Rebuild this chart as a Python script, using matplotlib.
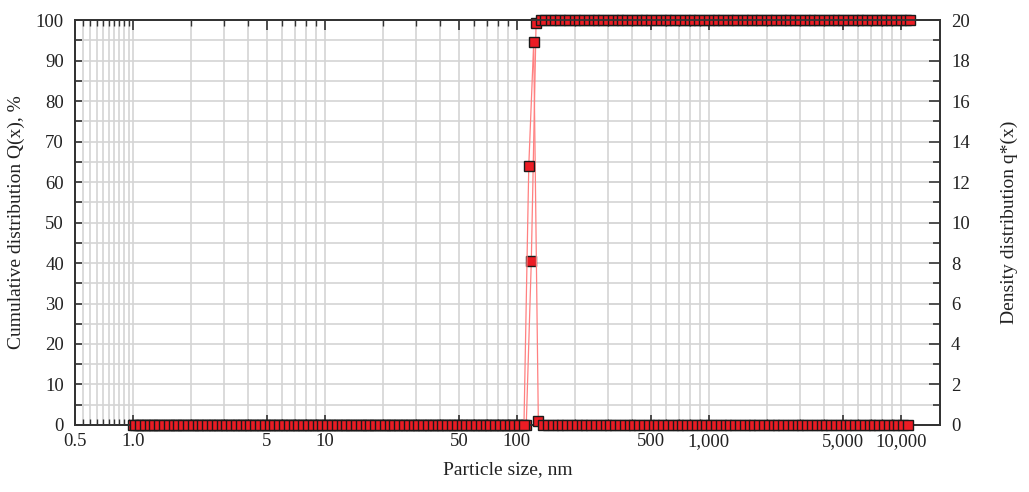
import numpy as np
import matplotlib
matplotlib.use("Agg")
import matplotlib.pyplot as plt
from matplotlib.ticker import FixedLocator, FixedFormatter, NullFormatter

plt.rcParams['font.family'] = ['Liberation Serif', 'DejaVu Serif']

mantissas = [1.00, 1.06, 1.12, 1.19, 1.26, 1.33, 1.41, 1.50, 1.58, 1.68,
             1.78, 1.88, 2.00, 2.11, 2.24, 2.37, 2.51, 2.66, 2.82, 2.99,
             3.16, 3.35, 3.55, 3.76, 3.98, 4.22, 4.47, 4.73, 5.01, 5.31,
             5.62, 5.96, 6.31, 6.68, 7.08, 7.50, 7.94, 8.41, 8.91, 9.44]
decades = [1, 10, 100, 1000]
tail_sizes = [10000, 10600, 11200]

# cumulative distribution, rising part (at size edges 119, 126 nm)
cum_rise = [40.5, 99.3]
cum_low, cum_high = 0.0, 100.0

# density distribution around the peak (bins 112-119, 119-126, 126-133)
dens_peak = [12.8, 18.9, 0.2]

xtick_vals = [0.5, 1, 5, 10, 50, 100, 500, 1000, 5000, 10000]
xtick_labels = ["0.5", "1.0", "5", "10", "50", "100", "500", "1,000", "5,000", "10,000"]

# ---- build series
sizes = np.array([m * d for d in decades for m in mantissas] + tail_sizes)
i_rise = int(np.argmin(np.abs(sizes - 119)))
cum = np.full(len(sizes), cum_high)
cum[:i_rise] = cum_low
cum[i_rise:i_rise + len(cum_rise)] = cum_rise

mids = np.sqrt(sizes[:-1] * sizes[1:])
dens = np.zeros(len(mids))
dens[i_rise - 1:i_rise - 1 + len(dens_peak)] = dens_peak

fig = plt.figure(figsize=(10.29, 4.92), dpi=100)
ax = fig.add_axes([0.0729, 0.1362, 0.8406, 0.8231])
ax2 = ax.twinx()

red = '#ec1c24'
line_col = '#ff8080'
mk = dict(marker='s', markersize=6.8, markerfacecolor=red,
          markeredgecolor='#1a1a1a', markeredgewidth=1.0)

ax.plot(sizes, cum, color=line_col, lw=0.9, clip_on=False, zorder=3, **mk)
ax2.plot(mids, dens, color=line_col, lw=0.9, clip_on=False, zorder=3, **mk)

ax.set_xscale('log')
ax.set_xlim(0.5, 16000)
ax.set_ylim(0, 100)
ax2.set_ylim(0, 20)

# x ticks / grid
minor_x = [v / 100 for v in range(55, 100, 5)]
for d in [1, 10, 100, 1000, 10000]:
    for k in range(2, 10):
        if k != 5 and d * k < 16000:
            minor_x.append(d * k)
ax.xaxis.set_major_locator(FixedLocator(xtick_vals))
ax.xaxis.set_major_formatter(FixedFormatter(xtick_labels))
ax.xaxis.set_minor_locator(FixedLocator(minor_x))
ax.xaxis.set_minor_formatter(NullFormatter())

ax.set_yticks(range(0, 101, 10))
ax.set_yticks(range(5, 100, 10), minor=True)
ax2.set_yticks(range(0, 21, 2))
ax2.set_yticks(range(1, 20, 2), minor=True)

grid_col = '#d4d4d4'
ax.grid(True, which='both', axis='both', color=grid_col, lw=1.2)
ax.set_axisbelow(True)

txt_col = '#222222'
ax.tick_params(axis='x', which='major', direction='in', length=7, width=1.2,
               top=True, labelsize=13.5, colors='#333333', labelcolor=txt_col, pad=6)
ax.tick_params(axis='x', which='minor', direction='in', length=4, width=1.0,
               top=True, colors='#333333')
ax.tick_params(axis='y', which='both', direction='in', length=5, width=1.2,
               right=False, labelsize=13.5, colors='#333333', labelcolor=txt_col, pad=8)
ax2.tick_params(axis='y', which='major', direction='in', length=8, width=1.2,
                labelsize=13.5, colors='#333333', labelcolor=txt_col, pad=8)
ax2.tick_params(axis='y', which='minor', direction='in', length=5, width=1.2,
                colors='#333333')
ax2.tick_params(axis='x', which='both', bottom=False, top=False)

for a in (ax, ax2):
    for s in a.spines.values():
        s.set_color('#333333')
        s.set_linewidth(1.3)

ax.set_xlabel('Particle size, nm', fontsize=14, color=txt_col, labelpad=8)
ax.set_ylabel('Cumulative distribution Q(x), %', fontsize=14, color=txt_col, labelpad=8)
ax2.set_ylabel('Density distribution q*(x)', fontsize=14, color=txt_col, labelpad=22)

fig.savefig('out.png', dpi=100)
